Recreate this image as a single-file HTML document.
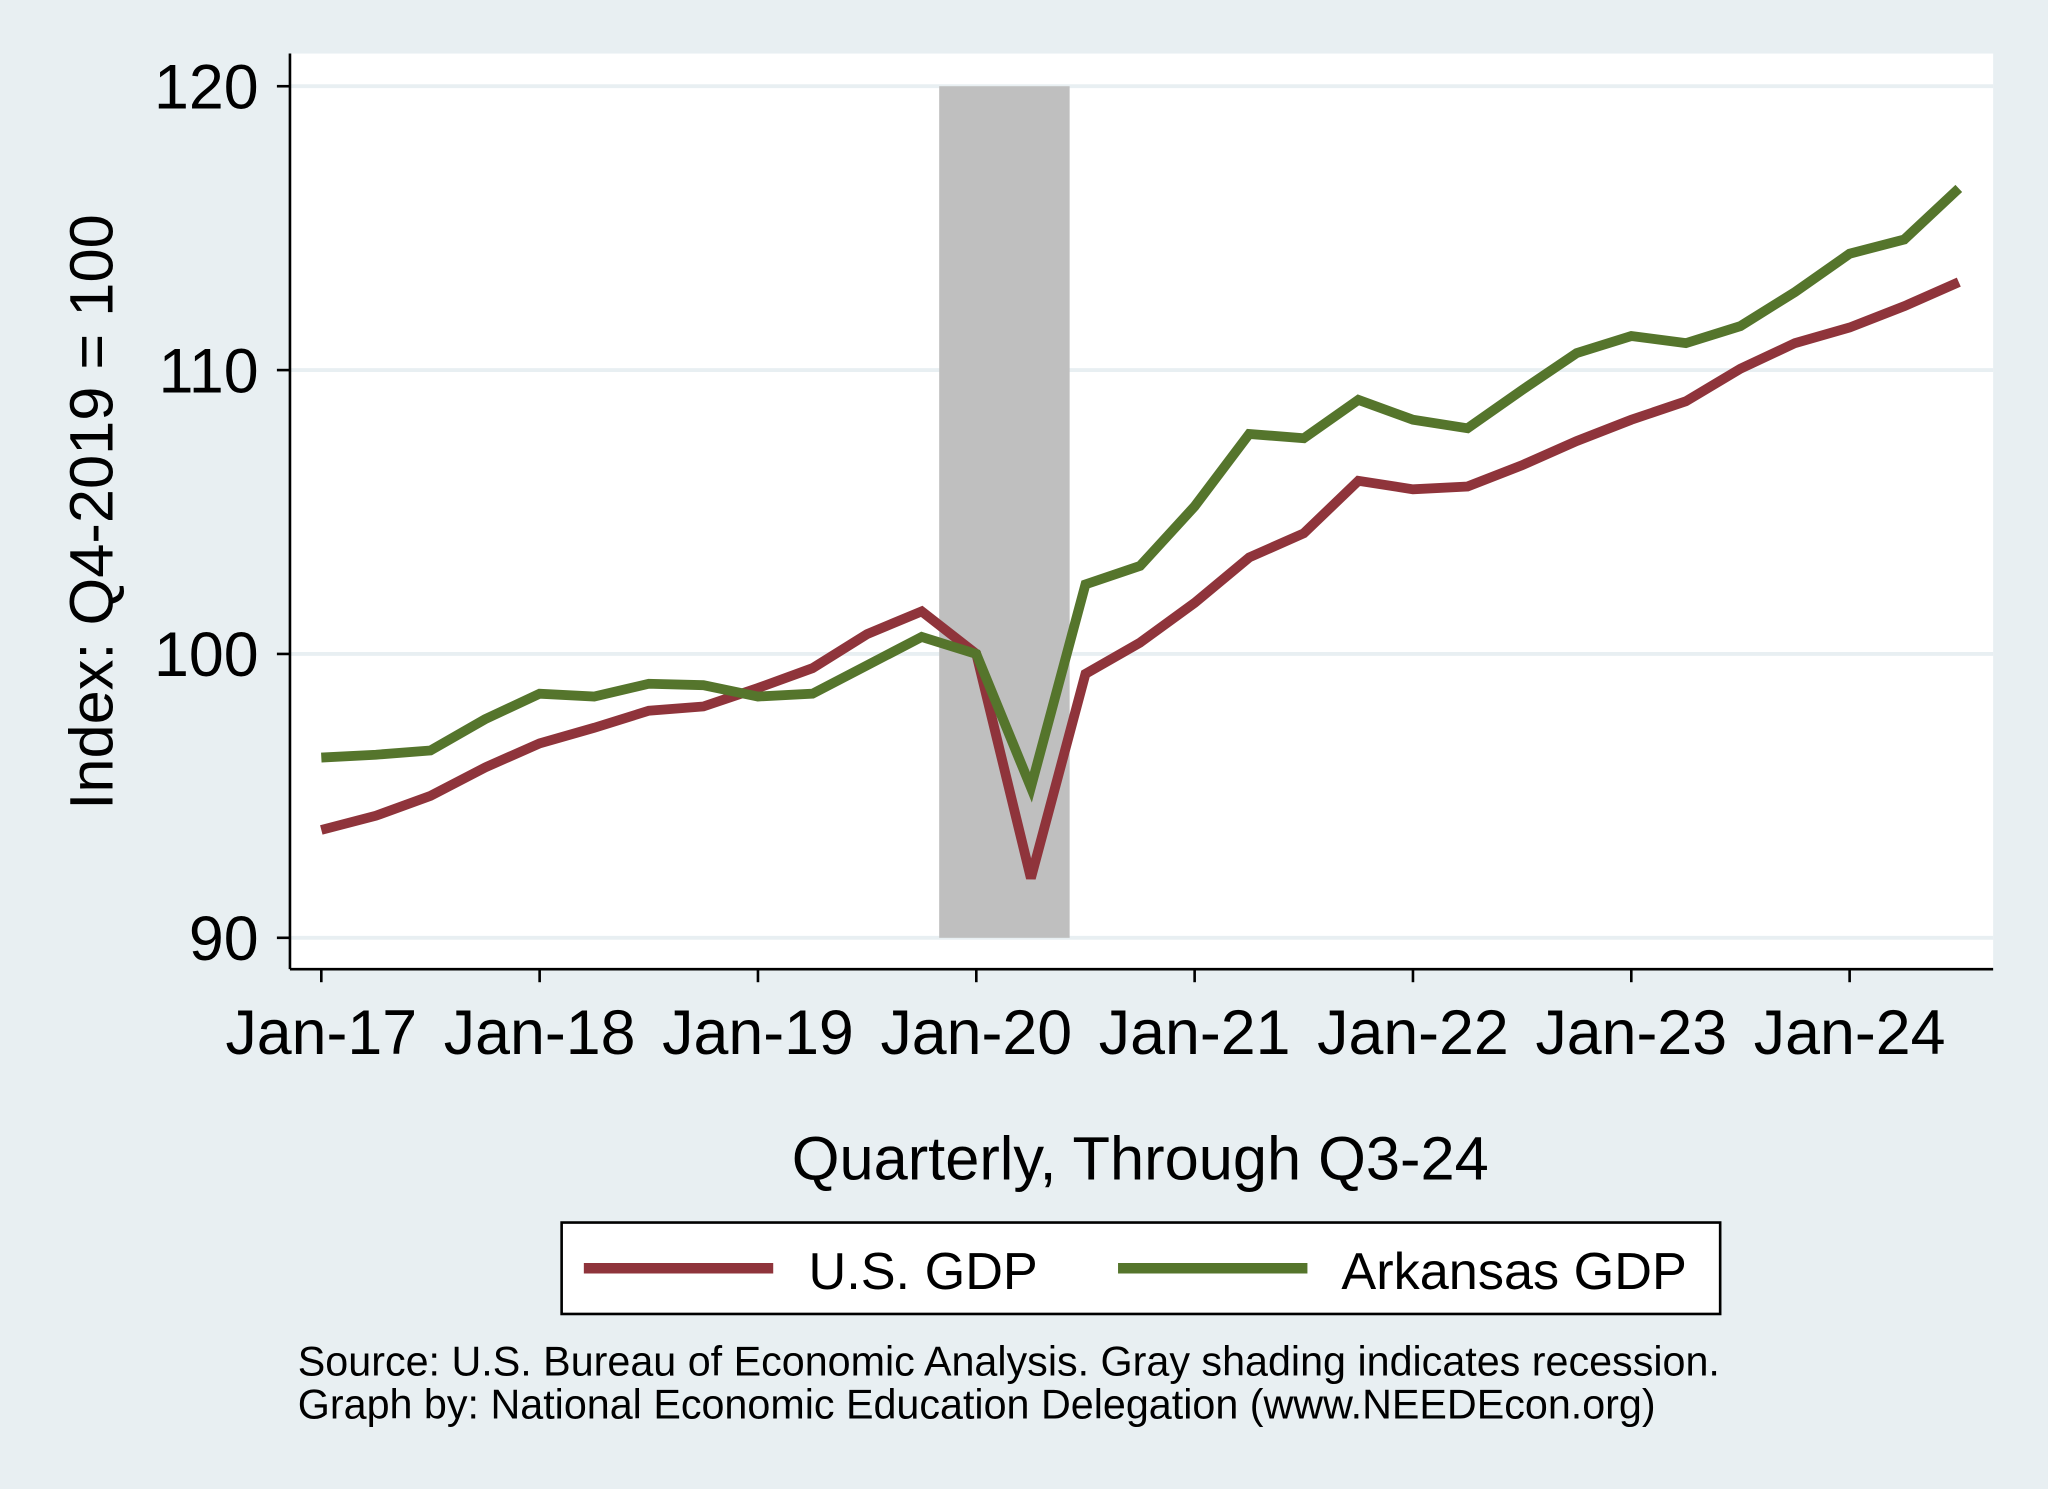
<!DOCTYPE html>
<html><head><meta charset="utf-8"><style>
html,body{margin:0;padding:0;background:#e8eff2;}
svg{display:block;font-family:"Liberation Sans",sans-serif;}
</style></head><body>
<svg id="chart" width="2048" height="1489" viewBox="0 0 1568 1140">
<rect x="0" y="0" width="1568" height="1140" fill="#e8eff2"/>
<rect x="222" y="41" width="1304" height="701" fill="#ffffff"/>
<g id="grid"></g>
<g id="recession"></g>
<g id="series"></g>
<line x1="222" y1="41" x2="222" y2="742" stroke="#000" stroke-width="2"/>
<line x1="222" y1="742" x2="1526" y2="742" stroke="#000" stroke-width="2"/>
<g id="yticks"></g>
<g id="xticks"></g>
<text x="0" y="0" transform="translate(86,392) rotate(-90)" text-anchor="middle" font-size="47">Index: Q4-2019 = 100</text>
<text x="873" y="903" text-anchor="middle" font-size="47">Quarterly, Through Q3-24</text>
<g>
<rect x="430" y="936" width="887" height="70" fill="#fff" stroke="#000" stroke-width="2"/>
<line x1="447" y1="971" x2="592" y2="971" stroke="#8f343b" stroke-width="8"/>
<text x="619" y="987" font-size="40">U.S. GDP</text>
<line x1="856" y1="971" x2="1001" y2="971" stroke="#55752c" stroke-width="8"/>
<text x="1027" y="987" font-size="40">Arkansas GDP</text>
</g>
<text x="228" y="1053" font-size="31.6">Source: U.S. Bureau of Economic Analysis. Gray shading indicates recession.</text>
<text x="228" y="1086" font-size="31.6">Graph by: National Economic Education Delegation (www.NEEDEcon.org)</text>
</svg>
<script>
const xLabels = ["Jan-17","Jan-18","Jan-19","Jan-20","Jan-21","Jan-22","Jan-23","Jan-24"];
const yTicks = [90,100,110,120];
const usGdp = [93.8,94.3,95.0,96.0,96.85,97.4,98.0,98.15,98.8,99.5,100.7,101.5,100,92.1,99.3,100.4,101.8,103.4,104.25,106.1,105.8,105.9,106.65,107.5,108.25,108.9,110.05,110.95,111.5,112.25,113.1];
const arGdp = [96.35,96.45,96.6,97.7,98.6,98.5,98.95,98.9,98.5,98.6,99.6,100.6,100,95.3,102.45,103.1,105.2,107.75,107.6,108.95,108.25,107.95,109.3,110.6,111.2,110.95,111.55,112.75,114.1,114.6,116.4];
const recession = [11.32, 13.71];
const NS="http://www.w3.org/2000/svg";
function xs(q){return 246+q*41.79;}
function ys(v){return 718-(v-90)*21.733;}
function mk(tag,attrs,parent){const e=document.createElementNS(NS,tag);for(const k in attrs)e.setAttribute(k,attrs[k]);document.getElementById(parent).appendChild(e);return e;}
yTicks.forEach(v=>{
  const g=mk('line',{x1:222,x2:1526,y1:ys(v),y2:ys(v),stroke:'#e8eff2','stroke-width':3},'grid');
  
  
  const t=mk('line',{x1:212,x2:222,y1:ys(v),y2:ys(v),stroke:'#000','stroke-width':2},'yticks');
  
  
  const l=mk('text',{x:198,y:ys(v)+17,'text-anchor':'end','font-size':48},'yticks');
  l.textContent=v;
  
  
});
const r=mk('rect',{x:xs(recession[0]),y:ys(120),width:xs(recession[1])-xs(recession[0]),height:ys(90)-ys(120),fill:'#bfbfbf'},'recession');


xLabels.forEach((s,i)=>{
  const x=xs(i*4);
  const t=mk('line',{x1:x,x2:x,y1:742,y2:752,stroke:'#000','stroke-width':2},'xticks');
  
  
  const l=mk('text',{x:x,y:807,'text-anchor':'middle','font-size':48},'xticks');
  l.textContent=s;
  
  
});
function line(data,color,name){
  const p=mk('polyline',{points:data.map((v,i)=>xs(i)+','+ys(v)).join(' '),fill:'none',stroke:color,'stroke-width':7.5,'stroke-linejoin':'miter'},'series');
  
  
}
line(usGdp,'#8f343b','us-gdp-line');
line(arGdp,'#55752c','arkansas-gdp-line');
</script>
</body></html>
